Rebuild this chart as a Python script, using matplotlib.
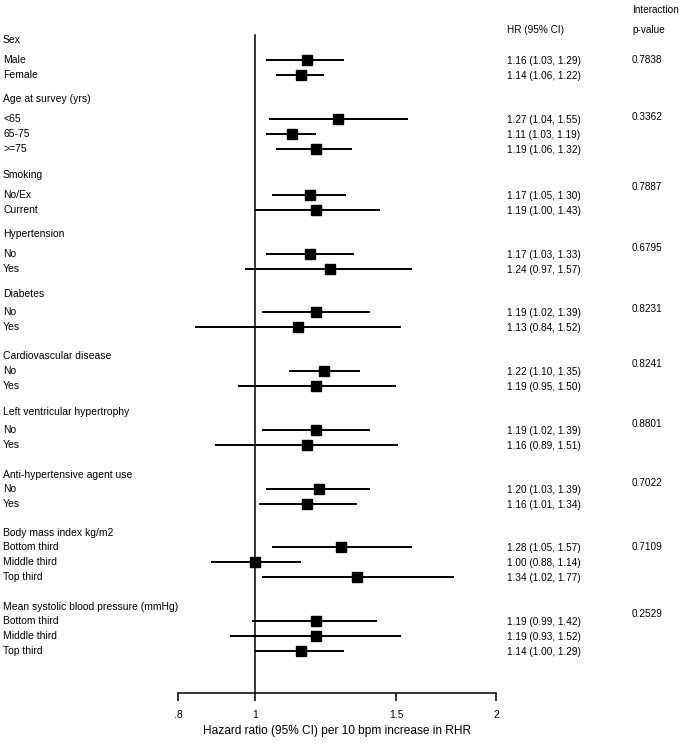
import matplotlib
matplotlib.use("Agg")
import matplotlib.pyplot as plt
import matplotlib.transforms as mtransforms

plt.rcParams['font.family'] = ['Liberation Sans', 'DejaVu Sans']

# subgroup data
groups = ["Sex", "Age at survey (yrs)", "Smoking", "Hypertension", "Diabetes",
          "Cardiovascular disease", "Left ventricular hypertrophy",
          "Anti-hypertensive agent use", "Body mass index kg/m2",
          "Mean systolic blood pressure (mmHg)"]
rows = [["Male", "Female"],
        ["<65", "65-75", ">=75"],
        ["No/Ex", "Current"],
        ["No", "Yes"],
        ["No", "Yes"],
        ["No", "Yes"],
        ["No", "Yes"],
        ["No", "Yes"],
        ["Bottom third", "Middle third", "Top third"],
        ["Bottom third", "Middle third", "Top third"]]
hr = [[1.16, 1.14], [1.27, 1.11, 1.19], [1.17, 1.19], [1.17, 1.24], [1.19, 1.13],
      [1.22, 1.19], [1.19, 1.16], [1.20, 1.16], [1.28, 1.00, 1.34], [1.19, 1.19, 1.14]]
lo = [[1.03, 1.06], [1.04, 1.03, 1.06], [1.05, 1.00], [1.03, 0.97], [1.02, 0.84],
      [1.10, 0.95], [1.02, 0.89], [1.03, 1.01], [1.05, 0.88, 1.02], [0.99, 0.93, 1.00]]
hi = [[1.29, 1.22], [1.55, 1.19, 1.32], [1.30, 1.43], [1.33, 1.57], [1.39, 1.52],
      [1.35, 1.50], [1.39, 1.51], [1.39, 1.34], [1.57, 1.14, 1.77], [1.42, 1.52, 1.29]]
pvals = ["0.7838", "0.3362", "0.7887", "0.6795", "0.8231",
         "0.8241", "0.8801", "0.7022", "0.7109", "0.2529"]

# row layout (pixels from top)
header_y = [40, 99, 175, 234, 294, 356, 412, 475, 533, 607]
first_gap = [20, 20, 20, 20, 18, 15, 18, 14, 14, 14]
step = 14.8
p_lift = [0, 2, 8, 6, 3, 7, 6, 6, 0, 7]

W, H = 681, 746
fig = plt.figure(figsize=(W / 100, H / 100), dpi=100)
ax = fig.add_axes([178 / W, (H - 693) / H, (496 - 178) / W, 693 / H])
ax.set_xscale('log')
ax.set_xlim(0.8, 2)
ax.set_ylim(693, 0)

fs = 7.5
fs2 = 7.2
ytr = mtransforms.blended_transform_factory(fig.transFigure, ax.transData)
xl, xhr, xp = 3 / W, 507 / W, 632 / W

for g, name in enumerate(groups):
    ax.text(xl, header_y[g], name, transform=ytr, fontsize=fs, va='center', ha='left')
    y0 = header_y[g] + first_gap[g]
    ax.text(xp, y0 - p_lift[g], pvals[g], transform=ytr, fontsize=fs2, va='center', ha='left')
    for i, lab in enumerate(rows[g]):
        y = y0 + i * step
        ax.text(xl, y, lab, transform=ytr, fontsize=fs, va='center', ha='left')
        ax.plot([lo[g][i], hi[g][i]], [y, y], color='black', lw=1.4, solid_capstyle='butt')
        ax.plot(hr[g][i], y, marker='s', color='black', ms=7.0)
        ax.text(xhr, y + 1, f"{hr[g][i]:.2f} ({lo[g][i]:.2f}, {hi[g][i]:.2f})",
                transform=ytr, fontsize=fs2, va='center', ha='left')

ax.plot([1, 1], [35, 693], color='black', lw=1.1)

ax.text(xhr, 30, "HR (95% CI)", transform=ytr, fontsize=fs2, va='center', ha='left')
ax.text(xp, 10, "Interaction", transform=ytr, fontsize=fs2, va='center', ha='left')
ax.text(xp, 30, "p-value", transform=ytr, fontsize=fs2, va='center', ha='left')

for s in ['top', 'left', 'right']:
    ax.spines[s].set_visible(False)
ax.spines['bottom'].set_linewidth(1.1)
ax.set_yticks([])
ax.set_xticks([0.8, 1, 1.5, 2])
ax.set_xticklabels(['.8', '1', '1.5', '2'])
ax.minorticks_off()
ax.tick_params(axis='x', direction='out', length=6, width=1.1, labelsize=fs, pad=6)
ax.set_xlabel("Hazard ratio (95% CI) per 10 bpm increase in RHR", fontsize=8.6, labelpad=4)
ax.patch.set_visible(False)

fig.savefig("out.png", dpi=100)
